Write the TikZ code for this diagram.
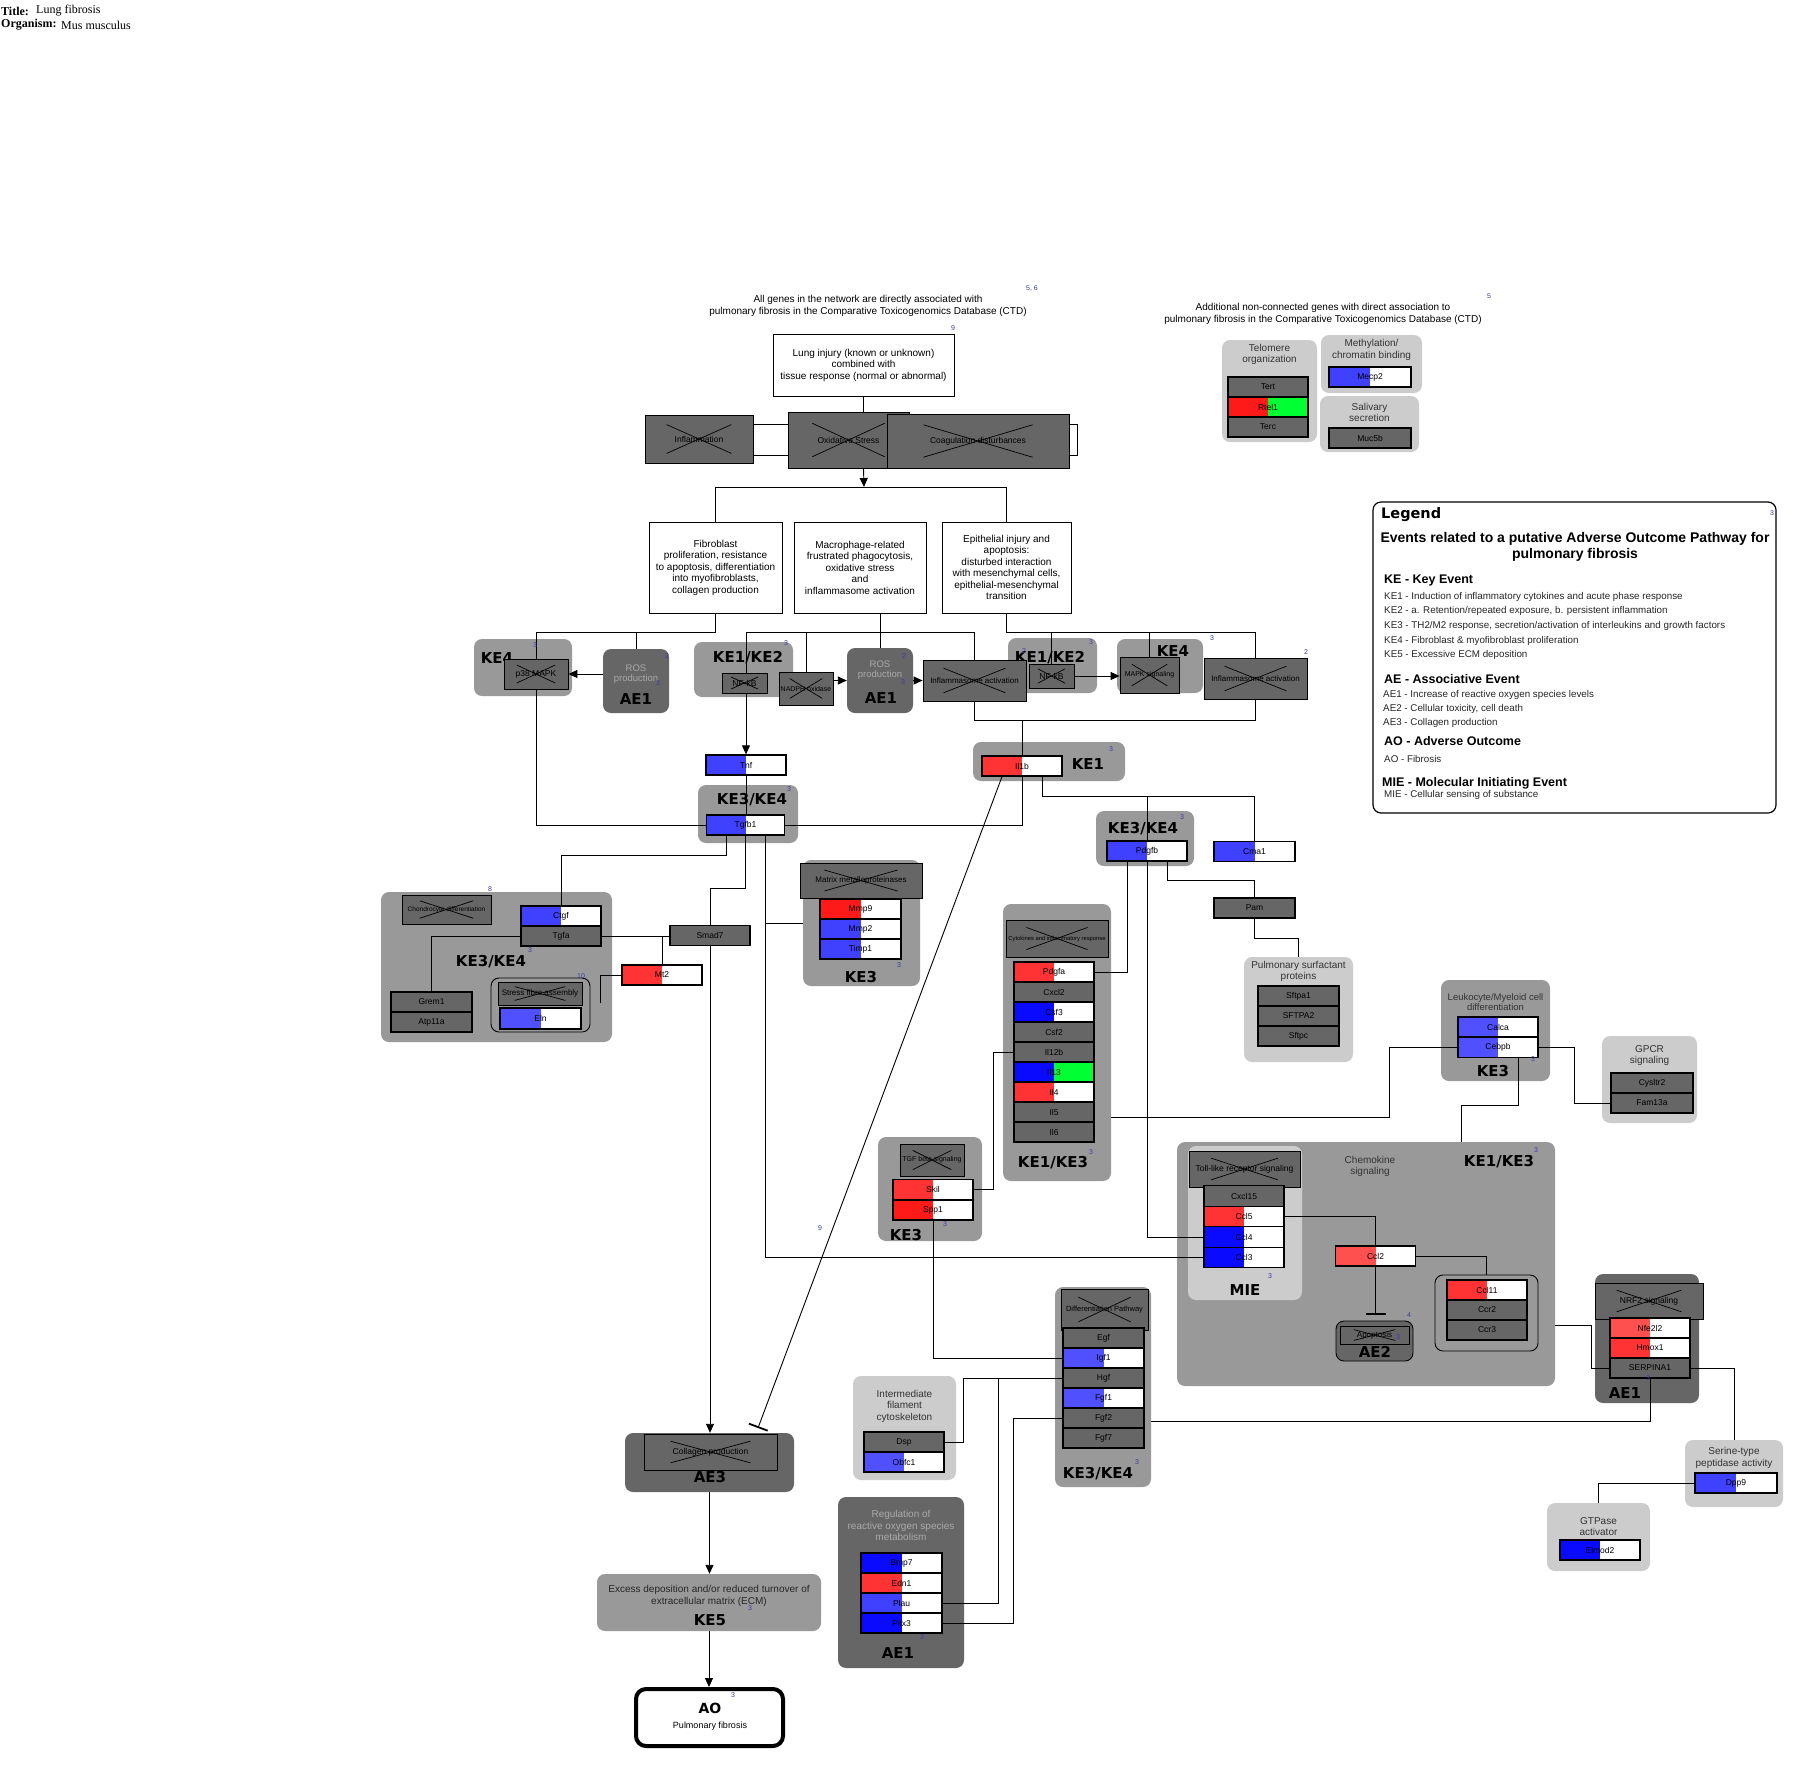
\documentclass[tikz,border=0pt]{standalone}
\usepackage{fontspec}
\setmainfont{Liberation Sans}
\newfontfamily\tnr{Liberation Serif}
\newfontfamily\dv{DejaVu Sans}
\usetikzlibrary{arrows.meta,calc}
\definecolor{ngray}{HTML}{666666}
\definecolor{kgray}{HTML}{999999}
\definecolor{lgray}{HTML}{CCCCCC}
\definecolor{fnote}{HTML}{3C3CA8}
\definecolor{tgray}{HTML}{333333}
\definecolor{rgray}{HTML}{AAAAAA}
\definecolor{bA}{HTML}{4040FF}
\definecolor{bB}{HTML}{0A0AFF}
\definecolor{bC}{HTML}{5050FF}
\definecolor{rA}{HTML}{FF3333}
\definecolor{rB}{HTML}{FF1A1A}
\definecolor{rC}{HTML}{FF5050}
\definecolor{gA}{HTML}{00FF33}
\newcommand{\fs}[2]{\fontsize{#1}{#2}\selectfont}
\pgfdeclarelayer{bg}
\pgfdeclarelayer{edges}
\pgfsetlayers{bg,edges,main}
\tikzset{
  conn/.style={line width=0.9pt},
  arr/.style={conn,-{Triangle[length=9pt,width=8pt]}},
  inh/.style={conn,-{Bar[width=20pt,line width=1.8pt]}},
  gene/.style={draw,line width=1.3pt,inner sep=0pt,minimum width=80,minimum height=20,fill=ngray,font=\fs{8.5}{10}},
  hl/.style 2 args={fill=#2,path picture={\fill[#1] (path picture bounding box.south west) rectangle (path picture bounding box.north);}},
  xbox/.style={draw,line width=0.9pt,fill=ngray,inner sep=0pt,font=\fs{8.5}{10},
    path picture={
      \draw[line width=0.7pt] ($(path picture bounding box.north west)!0.2!(path picture bounding box.south east)$) -- ($(path picture bounding box.north west)!0.8!(path picture bounding box.south east)$);
      \draw[line width=0.7pt] ($(path picture bounding box.south west)!0.2!(path picture bounding box.north east)$) -- ($(path picture bounding box.south west)!0.8!(path picture bounding box.north east)$);}},
  txtbox/.style={draw,line width=0.9pt,fill=white,inner sep=0pt,align=center,font=\fs{10}{11.5}},
  grpK/.style={fill=kgray,rounded corners=8pt,inner sep=0pt},
  grpA/.style={fill=ngray,rounded corners=8pt,inner sep=0pt},
  grpL/.style={fill=lgray,rounded corners=8pt,inner sep=0pt},
  glab/.style={font=\dv\bfseries\fs{15}{15},inner sep=0pt},
  fn/.style={font=\fs{7}{8},text=fnote,inner sep=0pt},
  ttl/.style={font=\fs{10}{11.5},text=tgray,align=center,inner sep=0pt},
  lgh/.style={anchor=west,inner sep=0pt,font=\bfseries\fs{12.5}{14}},
  lgi/.style={anchor=west,inner sep=0pt,font=\fs{9.8}{11},text=black!85},
}
\begin{document}
\begin{tikzpicture}[x=1pt,y=-1pt]
\begin{pgfonlayer}{bg}
\fill[white] (0,0) rectangle (1818,1773);
\end{pgfonlayer}
\useasboundingbox (0,0) rectangle (1818,1773);

% ---------- header ----------
\node[anchor=west,inner sep=0pt,font=\tnr\bfseries\fs{12}{13}] (hdt) at (1,11) {Title:};
\node[anchor=west,inner sep=0pt,font=\tnr\fs{12}{13}] (hdtv) at (36,11) {Lung fibrosis};
\node[anchor=west,inner sep=0pt,font=\tnr\bfseries\fs{12}{13}] (hdo) at (1,25) {Organism:};
\node[anchor=west,inner sep=0pt,font=\tnr\fs{12}{13}] (hdov) at (61,25) {Mus musculus};

% ---------- groups ----------
\begin{pgfonlayer}{bg}
\node[grpL,minimum width=95,minimum height=102] (telgrp) at (1269.5,391) {};
\node[grpL,minimum width=101,minimum height=58] (metgrp) at (1371.5,364) {};
\node[grpL,minimum width=99,minimum height=56] (salgrp) at (1369.5,424) {};
\node[grpK,minimum width=98,minimum height=57] (p38grp) at (523,667.5) {};
\node[grpA,minimum width=66,minimum height=64] (ros1) at (636,681) {};
\node[grpK,minimum width=99,minimum height=55] (nfkbgrpA) at (743.5,669.5) {};
\node[grpA,minimum width=66,minimum height=65] (ros2) at (880,680.5) {};
\node[grpK,minimum width=89,minimum height=55] (nfkbgrpB) at (1052.5,665.5) {};
\node[grpK,minimum width=86,minimum height=54] (mapkgrp) at (1160,666) {};
\node[grpK,minimum width=100,minimum height=58] (tgfb1grp) at (748,814) {};
\node[grpK,minimum width=152,minimum height=39] (il1bgrp) at (1049,761.5) {};
\node[grpK,minimum width=231,minimum height=150] (leftgrp) at (496.5,967) {};
\node[grpK,draw,line width=0.9pt,minimum width=99,minimum height=54] (strgrp) at (540.5,1005) {};
\node[grpK,minimum width=117,minimum height=126] (mmpgrp) at (861.5,923) {};
\node[grpK,minimum width=98,minimum height=55] (pdgfbgrp) at (1145,838.5) {};
\node[grpL,minimum width=109,minimum height=105] (surfgrp) at (1298.5,1009.5) {};
\node[grpK,minimum width=108,minimum height=277] (chemgrp) at (1057,1042.5) {};
\node[grpK,minimum width=109,minimum height=101] (leukgrp) at (1495.5,1030.5) {};
\node[grpL,minimum width=95,minimum height=87] (gpcrgrp) at (1649.5,1079.5) {};
\node[grpK,minimum width=378,minimum height=244] (biggrp) at (1366,1264) {};
\node[grpL,minimum width=114,minimum height=154] (miegrp) at (1245,1223) {};
\node[grpA,draw,line width=0.9pt,minimum width=77,minimum height=40] (apopgrp) at (1374.5,1341) {};
\node[grpK,draw,line width=0.9pt,minimum width=103,minimum height=76] (ccl11grp) at (1486.5,1313) {};
\node[grpA,minimum width=104,minimum height=129] (nrfgrp) at (1647,1338.5) {};
\node[grpL,minimum width=98,minimum height=67] (serinegrp) at (1734,1473.5) {};
\node[grpL,minimum width=103,minimum height=68] (gtpgrp) at (1598.5,1537) {};
\node[grpK,minimum width=104,minimum height=104] (tgfgrp) at (930,1189) {};
\node[grpK,minimum width=96,minimum height=200] (diffgrp) at (1103,1387) {};
\node[grpL,minimum width=103,minimum height=104] (ifgrp) at (904.5,1428) {};
\node[grpA,minimum width=126,minimum height=171] (rosgrp) at (901,1582.5) {};
\node[grpA,minimum width=169,minimum height=59] (collgrp) at (709.5,1462.5) {};
\node[grpK,minimum width=224,minimum height=57] (ke5grp) at (709,1602.5) {};
\end{pgfonlayer}

% ---------- group labels ----------
\node[glab] (g1) at (497,658) {KE4};
\node[glab] (g2) at (636,699) {AE1};
\node[glab] (g3) at (748,658) {KE1/KE2};
\node[glab] (g4) at (881,698) {AE1};
\node[glab] (g5) at (1050,658) {KE1/KE2};
\node[glab] (g6) at (1173,651) {KE4};
\node[glab] (g7) at (752,800) {KE3/KE4};
\node[glab] (g8) at (1088,764) {KE1};
\node[glab] (g9) at (491,962) {KE3/KE4};
\node[glab] (g10) at (861,977) {KE3};
\node[glab] (g11) at (1143,829) {KE3/KE4};
\node[glab] (g12) at (1053,1163) {KE1/KE3};
\node[glab] (g13) at (1493,1071) {KE3};
\node[glab] (g14) at (1499,1162) {KE1/KE3};
\node[glab] (g15) at (1245,1290) {MIE};
\node[glab] (g16) at (1375,1352) {AE2};
\node[glab] (g17) at (1625,1393) {AE1};
\node[glab] (g18) at (906,1235) {KE3};
\node[glab] (g19) at (1098,1474) {KE3/KE4};
\node[glab] (g20) at (898,1653) {AE1};
\node[glab] (g21) at (710,1477) {AE3};
\node[glab] (g22) at (710,1620) {KE5};

% ---------- group titles ----------
\node[ttl] (telt) at (1269.5,354.5) {Telomere\\organization};
\node[ttl] (mett) at (1371.5,350) {Methylation/\\chromatin binding};
\node[ttl] (salt) at (1369.5,412.5) {Salivary\\secretion};
\node[ttl] (surft) at (1298.5,971.5) {Pulmonary surfactant\\proteins};
\node[ttl,font=\fs{9.5}{10.5}] (leukt) at (1495.5,1002) {Leukocyte/Myeloid cell\\differentiation};
\node[ttl] (gpcrt) at (1649.5,1055.5) {GPCR\\signaling};
\node[ttl] (chemt) at (1370,1166.5) {Chemokine\\signaling};
\node[ttl] (ift) at (904.5,1406) {Intermediate\\filament\\cytoskeleton};
\node[ttl,text=rgray] (rost) at (901,1525.5) {Regulation of\\reactive oxygen species\\metabolism};
\node[ttl] (sert) at (1734,1458) {Serine-type\\peptidase activity};
\node[ttl] (gtpt) at (1598.5,1526.5) {GTPase\\activator};
\node[ttl,text=black!85] (ke5t) at (709,1596) {Excess deposition and/or reduced turnover of\\extracellular matrix (ECM)};
\node[ttl,text=rgray,font=\fs{9.5}{10}] (ros1t) at (636,674.5) {ROS\\production};
\node[ttl,text=rgray,font=\fs{9.5}{10}] (ros2t) at (880,670.5) {ROS\\production};

% ---------- top texts ----------
\node[align=center,inner sep=0pt,font=\fs{10}{12}] (note1) at (868,306) {All genes in the network are directly associated with\\pulmonary fibrosis in the Comparative Toxicogenomics Database (CTD)};
\node[align=center,inner sep=0pt,font=\fs{10}{12}] (note2) at (1323,314) {Additional non-connected genes with direct association to\\pulmonary fibrosis in the Comparative Toxicogenomics Database (CTD)};
\node[txtbox,minimum width=181,minimum height=62] (lung) at (863.5,365) {Lung injury (known or unknown)\\combined with\\tissue response (normal or abnormal)};
\node[txtbox,minimum width=133,minimum height=91] (fib) at (715.5,567.5) {Fibroblast\\proliferation, resistance\\to apoptosis, differentiation\\into myofibroblasts,\\collagen production};
\node[txtbox,minimum width=132,minimum height=91] (mac) at (860,567.5) {Macrophage-related\\frustrated phagocytosis,\\oxidative stress\\and\\inflammasome activation};
\node[txtbox,minimum width=129,minimum height=91] (epi) at (1006.5,567.5) {Epithelial injury and\\apoptosis:\\disturbed interaction\\with mesenchymal cells,\\epithelial-mesenchymal\\transition};

% ---------- crossed boxes ----------
\node[xbox,minimum width=108,minimum height=48] (infl) at (699,439) {Inflammation};
\node[xbox,minimum width=121,minimum height=56] (oxid) at (848.5,440) {Oxidative Stress};
\node[xbox,minimum width=182,minimum height=54] (coag) at (978,441) {Coagulation disturbances};
\node[xbox,minimum width=64,minimum height=30] (p38) at (536,674) {p38 MAPK};
\node[xbox,minimum width=45,minimum height=20] (nfkbA) at (744.5,683) {NF-kB};
\node[xbox,minimum width=54,minimum height=33,font=\fs{7}{8}] (nadph) at (806,688.5) {NADPH oxidase};
\node[xbox,minimum width=103,minimum height=41,font=\fs{8}{9}] (inflA) at (974.5,680.5) {Inflammasome activation};
\node[xbox,minimum width=45,minimum height=24] (nfkbB) at (1051.5,676) {NF-kB};
\node[xbox,minimum width=59,minimum height=36,font=\fs{7}{8}] (mapk) at (1149.5,675) {MAPK signaling};
\node[xbox,minimum width=103,minimum height=41,font=\fs{8}{9}] (inflB) at (1255.5,678.5) {Inflammasome activation};
\node[xbox,minimum width=89,minimum height=29,font=\fs{6.5}{7}] (chondro) at (446.5,909.5) {Chondrocyte differentiation};
\node[xbox,minimum width=84,minimum height=23,font=\fs{8}{9}] (stress) at (540,993.5) {Stress fibre assembly};
\node[xbox,minimum width=122,minimum height=35,font=\fs{8}{9}] (mmpx) at (861,880.5) {Matrix metalloproteinases};
\node[xbox,minimum width=102,minimum height=37,font=\fs{5.8}{7}] (chemx) at (1057,938.5) {Cytokines and inflammatory response};
\node[xbox,minimum width=111,minimum height=36] (toll) at (1244.5,1169) {Toll-like receptor signaling};
\node[xbox,minimum width=69,minimum height=18,font=\fs{8}{9}] (apop) at (1374.5,1335) {Apoptosis};
\node[xbox,minimum width=108,minimum height=36] (nrf2) at (1649,1301) {NRF2 signaling};
\node[xbox,minimum width=64,minimum height=32,font=\fs{7}{8}] (tgfx) at (932,1160) {TGF beta signaling};
\node[xbox,minimum width=87,minimum height=41,font=\fs{7.5}{8}] (diffx) at (1104.5,1309.5) {Differentiation Pathway};
\node[xbox,minimum width=133,minimum height=36] (collx) at (710.5,1452) {Collagen production};

% ---------- genes ----------
\node[gene] (tert) at (1268,387) {Tert};
\node[gene,hl={rB}{gA}] (rtel1) at (1268,407) {Rtel1};
\node[gene] (terc) at (1268,427) {Terc};
\node[gene,minimum width=82,hl={bA}{white}] (mecp2) at (1370,377) {Mecp2};
\node[gene,minimum width=82] (muc5b) at (1370,438) {Muc5b};
\node[gene,hl={bA}{white}] (tnf) at (746,765) {Tnf};
\node[gene,minimum width=78,hl={bA}{white}] (tgfb1) at (745.5,825) {Tgfb1};
\node[gene,hl={bA}{white}] (ctgf) at (561,916) {Ctgf};
\node[gene] (tgfa) at (561,936) {Tgfa};
\node[gene,minimum width=81] (grem1) at (431.5,1002) {Grem1};
\node[gene,minimum width=81] (atp11a) at (431.5,1022) {Atp11a};
\node[gene,minimum width=81,minimum height=21,hl={bC}{white}] (eln) at (540.5,1018.5) {Eln};
\node[gene,hl={rA}{white}] (mt2) at (662,975) {Mt2};
\node[gene] (smad7) at (710,935.5) {Smad7};
\node[gene,minimum width=81,hl={rB}{white}] (mmp9) at (860.5,909) {Mmp9};
\node[gene,minimum width=81,hl={bA}{white}] (mmp2) at (860.5,929) {Mmp2};
\node[gene,minimum width=81,hl={bA}{white}] (timp1) at (860.5,949) {Timp1};
\node[gene,hl={rA}{white}] (il1b) at (1022,766) {Il1b};
\node[gene,hl={bA}{white}] (pdgfb) at (1147,851) {Pdgfb};
\node[gene,minimum width=81,hl={bA}{white}] (cma1) at (1254.5,851.5) {Cma1};
\node[gene,minimum width=81] (pam) at (1254.5,908) {Pam};
\node[gene,minimum width=81] (sftpa1) at (1298.5,996) {Sftpa1};
\node[gene,minimum width=81] (sftpa2) at (1298.5,1016) {SFTPA2};
\node[gene,minimum width=81] (sftpc) at (1298.5,1036) {Sftpc};
\node[gene,hl={rA}{white}] (pdgfa) at (1054,972) {Pdgfa};
\node[gene] (cxcl2) at (1054,992) {Cxcl2};
\node[gene,hl={bB}{white}] (csf3) at (1054,1012) {Csf3};
\node[gene] (csf2) at (1054,1032) {Csf2};
\node[gene] (il12b) at (1054,1052) {Il12b};
\node[gene,hl={bB}{gA}] (il13) at (1054,1072) {Il13};
\node[gene,hl={rA}{white}] (il4) at (1054,1092) {Il4};
\node[gene] (il5) at (1054,1112) {Il5};
\node[gene] (il6) at (1054,1132) {Il6};
\node[gene,hl={bC}{white}] (calca) at (1498,1027) {Calca};
\node[gene,hl={bC}{white}] (cebpb) at (1498,1047.5) {Cebpb};
\node[gene,minimum width=82] (cysltr2) at (1652,1083) {Cysltr2};
\node[gene,minimum width=82] (fam13a) at (1652,1103) {Fam13a};
\node[gene,minimum height=20.5] (cxcl15) at (1244,1196) {Cxcl15};
\node[gene,minimum height=20.5,hl={rA}{white}] (ccl5) at (1244,1216.5) {Ccl5};
\node[gene,minimum height=20.5,hl={bB}{white}] (ccl4) at (1244,1237) {Ccl4};
\node[gene,minimum height=20.5,hl={bB}{white}] (ccl3) at (1244,1257.5) {Ccl3};
\node[gene,hl={rC}{white}] (ccl2) at (1375.5,1256) {Ccl2};
\node[gene,hl={rA}{white}] (ccl11) at (1487,1290) {Ccl11};
\node[gene] (ccr2) at (1487,1310) {Ccr2};
\node[gene] (ccr3) at (1487,1330) {Ccr3};
\node[gene,hl={rC}{white}] (nfe2l2) at (1650,1328) {Nfe2l2};
\node[gene,hl={rA}{white}] (hmox1) at (1650,1348) {Hmox1};
\node[gene] (serpina1) at (1650,1368) {SERPINA1};
\node[gene,minimum width=82,hl={bA}{white}] (dpp9) at (1736,1483) {Dpp9};
\node[gene,hl={bB}{white}] (elmod2) at (1600,1550) {Elmod2};
\node[gene,hl={rA}{white}] (skil) at (933,1189.5) {Skil};
\node[gene,hl={rB}{white}] (spp1) at (933,1210) {Spp1};
\node[gene,minimum width=81] (egf) at (1103.5,1338) {Egf};
\node[gene,minimum width=81,hl={bC}{white}] (igf1) at (1103.5,1358) {Igf1};
\node[gene,minimum width=81] (hgf) at (1103.5,1378) {Hgf};
\node[gene,minimum width=81,hl={bC}{white}] (fgf1) at (1103.5,1398) {Fgf1};
\node[gene,minimum width=81] (fgf2) at (1103.5,1418) {Fgf2};
\node[gene,minimum width=81] (fgf7) at (1103.5,1438) {Fgf7};
\node[gene] (dsp) at (904,1442) {Dsp};
\node[gene,hl={bC}{white}] (obfc1) at (904,1462) {Obfc1};
\node[gene,minimum width=81,hl={bB}{white}] (bmp7) at (901.5,1563) {Bmp7};
\node[gene,minimum width=81,hl={rA}{white}] (edn1) at (901.5,1583) {Edn1};
\node[gene,minimum width=81,hl={bA}{white}] (plau) at (901.5,1603) {Plau};
\node[gene,minimum width=81,hl={bB}{white}] (pitx3) at (901.5,1623) {Pitx3};

% ---------- AO ----------
\node[draw,line width=4pt,rounded corners=10pt,fill=white,minimum width=147,minimum height=57,inner sep=0pt] (ao) at (709.5,1717.5) {};
\node[inner sep=0pt,font=\dv\bfseries\fs{14}{14}] (aol) at (710,1708) {AO};
\node[inner sep=0pt,font=\fs{9}{10}] (aot) at (710,1726) {Pulmonary fibrosis};

% ---------- legend ----------
\node[draw,line width=1.2pt,rounded corners=8pt,fill=white,minimum width=403,minimum height=311,inner sep=0pt] (legend) at (1574.5,657.5) {};
\node[anchor=west,inner sep=0pt,font=\dv\bfseries\fs{14.5}{15}] (lgt) at (1381,515) {Legend};
\node[align=center,inner sep=0pt,font=\bfseries\fs{14}{16}] (lgev) at (1575,547) {Events related to a putative Adverse Outcome Pathway for\\pulmonary fibrosis};
\node[lgh] (lg1) at (1384,580) {KE - Key Event};
\node[lgi] (lg2) at (1384,597) {KE1 - Induction of inflammatory cytokines and acute phase response};
\node[lgi] (lg3) at (1384,611) {KE2 - a. Retention/repeated exposure, b. persistent inflammation};
\node[lgi] (lg4) at (1384,626) {KE3 - TH2/M2 response, secretion/activation of interleukins and growth factors};
\node[lgi] (lg5) at (1384,641) {KE4 - Fibroblast \& myofibroblast proliferation};
\node[lgi] (lg6) at (1384,655) {KE5 - Excessive ECM deposition};
\node[lgh] (lg7) at (1384,679) {AE - Associative Event};
\node[lgi] (lg8) at (1383,695) {AE1 - Increase of reactive oxygen species levels};
\node[lgi] (lg9) at (1383,709) {AE2 - Cellular toxicity, cell death};
\node[lgi] (lg10) at (1383,723) {AE3 - Collagen production};
\node[lgh] (lg11) at (1384,741) {AO - Adverse Outcome};
\node[lgi] (lg12) at (1384,759) {AO - Fibrosis};
\node[lgh] (lg13) at (1382,783) {MIE - Molecular Initiating Event};
\node[lgi] (lg14) at (1384,795) {MIE - Cellular sensing of substance};

% ---------- footnotes ----------
\node[fn] (f1) at (1032,288) {5, 6};
\node[fn] (f2) at (953,328) {9};
\node[fn] (f3) at (1489,296) {5};
\node[fn] (f4) at (1772,513) {3};
\node[fn] (f5) at (535,645) {3};
\node[fn] (f6) at (667,656) {2};
\node[fn] (f7) at (658,683) {3};
\node[fn] (f8) at (786,643) {3};
\node[fn] (f9) at (904,656) {2};
\node[fn] (f10) at (903,682) {3};
\node[fn] (f11) at (1024,651) {2};
\node[fn] (f12) at (1091,642) {3};
\node[fn] (f13) at (1212,638) {3};
\node[fn] (f14) at (1306,652) {2};
\node[fn] (f15) at (789,789) {3};
\node[fn] (f16) at (490,889) {8};
\node[fn] (f17) at (530,950) {3};
\node[fn] (f18) at (581,976) {10};
\node[fn] (f19) at (899,965) {3};
\node[fn] (f20) at (1111,749) {3};
\node[fn] (f21) at (1182,817) {3};
\node[fn] (f22) at (1091,1152) {3};
\node[fn] (f23) at (1533,1059) {3};
\node[fn] (f24) at (1536,1150) {3};
\node[fn] (f25) at (1270,1276) {3};
\node[fn] (f26) at (1409,1315) {4};
\node[fn] (f27) at (1398,1337) {3};
\node[fn] (f28) at (1648,1378) {3};
\node[fn] (f29) at (945,1224) {3};
\node[fn] (f30) at (1137,1462) {3};
\node[fn] (f31) at (922,1637) {3};
\node[fn] (f32) at (820,1228) {9};
\node[fn] (f33) at (750,1608) {3};
\node[fn] (f34) at (733,1695) {3};

% ---------- connectors ----------
\coordinate (busA) at (0,632);
\coordinate (busD) at (0,720);
\coordinate (hub) at (864,487);
\coordinate (collinh) at (758,1428);
\begin{pgfonlayer}{edges}
\draw[conn] ([yshift=15pt]infl.east) -- ([yshift=15pt]infl.east -| oxid.west);
\draw[conn] ([yshift=-16pt]infl.east) -- ([yshift=-16pt]infl.east -| oxid.west);
\draw[conn] ([yshift=17pt]coag.east) -- ++(8,0) -- ++(0,31) -- ([yshift=-14pt]coag.east);
\draw[conn] (lung.south) -- (lung.south |- oxid.north);
\draw[arr] (lung.south |- oxid.south) -- (hub);
\draw[conn] (fib.north) -- (fib.north |- hub) -- (epi.north |- hub) -- (epi.north);
% bus A
\draw[conn] (fib.south) -- (fib.south |- busA) -| (p38.north);
\draw[conn] (ros1.north |- busA) -- (ros1.north);
\draw[arr] (ros1.west |- p38.east) -- (p38.east);
% bus B
\draw[conn] (mac.south -| ros2.north) -- (ros2.north);
\draw[conn] (tnf.north |- busA) -- (inflA.north |- busA) -- (inflA.north);
\draw[arr] (tnf.north |- busA) -- (tnf.north);
\draw[conn] (nadph.north |- busA) -- (nadph.north);
\draw[arr] ([yshift=8pt]nadph.east) -- ([yshift=8pt]nadph.east -| ros2.west);
\draw[arr] (ros2.east |- inflA.west) -- (inflA.west);
% bus C
\draw[conn] (epi.south) -- (epi.south |- busA) -| (inflB.north);
\draw[conn] (nfkbB.north |- busA) -- (nfkbB.north);
\draw[conn] (mapk.north |- busA) -- (mapk.north);
\draw[arr] (nfkbB.east) -- (nfkbB.east -| mapk.west);
% bus D
\draw[conn] (inflA.south) -- (inflA.south |- busD) -- (inflB.south |- busD) -- (inflB.south);
\draw[conn] (il1b.north |- busD) -- (il1b.north);
% Tnf / Tgfb1
\draw[conn] (tnf.south) -- (tnf.south |- tgfb1.north);
\draw[conn] (p38.south) |- (tgfb1.west);
\draw[conn] (il1b.south) |- (tgfb1.east);
\draw[conn] ([xshift=-19.5pt]tgfb1.south) -- ++(0,20) -| (ctgf.north);
\draw[conn] (tgfb1.south) -- ++(0,53) -| (smad7.north);
\draw[arr] (smad7.south) -- (smad7.south |- collgrp.north);
\coordinate (t3) at ([xshift=19.5pt]tgfb1.south);
\draw[conn] (t3) |- (ccl3.west);
\draw[conn] (t3 |- mmpgrp.west) -- (mmpgrp.west);
% left group
\draw[conn] (tgfa.west) -| (grem1.north);
\draw[conn] (tgfa.east) -- (tgfa.east -| smad7.west);
\draw[conn] (mt2.north |- tgfa.east) -- (mt2.north);
\draw[conn] (mt2.west) -- ++(-21,0) -- ++(0,28);
% Il1b
\draw[inh] ([xshift=-20pt]il1b.south) -- (collinh);
\coordinate (j1) at ([xshift=20pt,yshift=-20pt]il1b.south);
\draw[conn] ([xshift=20pt]il1b.south) -- (j1) -| (cma1.north);
\draw[conn] (j1 -| pdgfb.center) |- (ccl4.west);
\draw[conn] ([xshift=-20pt]pdgfb.south) |- (pdgfa.east);
\draw[conn] ([xshift=20pt]pdgfb.south) -- ++(0,19) -| (pam.north);
\draw[conn] (pam.south) -- ++(0,20) -| (surfgrp.north);
% chemokines
\draw[conn] (il12b.west) -- ++(-20,0) |- (skil.east);
\draw[conn] ([yshift=-74.5pt]chemgrp.east) -| ([xshift=-68pt]cebpb.west) -- (cebpb.west);
\draw[conn] (cebpb.east) -- ++(36,0) |- (fam13a.west);
\draw[conn] ([xshift=20pt]cebpb.south) -- ++(0,47) -| ([xshift=95pt]biggrp.north);
\draw[conn] (ccl5.east) -| (ccl2.north);
\draw[inh] (ccl2.south) -- ++(0,48);
\draw[conn] (ccl2.east) -| (ccl11grp.north);
\draw[conn] ([yshift=-61pt]biggrp.east) -- ++(36,0) |- (serpina1.west);
\draw[conn] (serpina1.east) -| (serinegrp.north);
\draw[conn] (serpina1.south) |- ([yshift=-34pt]diffgrp.east);
\draw[conn] (dpp9.west) -| (gtpgrp.north);
% lower middle
\draw[conn] (spp1.south) |- (igf1.west);
\draw[conn] (dsp.east) -- ++(19,0) |- (hgf.west);
\draw[conn] ([xshift=-64pt]hgf.west) |- (plau.east);
\draw[conn] (fgf2.west) -- ++(-49,0) |- (pitx3.east);
\draw[arr] (collgrp.south) -- (collgrp.south |- ke5grp.north);
\draw[arr] (ke5grp.south) -- (ke5grp.south |- ao.north);
\end{pgfonlayer}
\end{tikzpicture}
\end{document}
